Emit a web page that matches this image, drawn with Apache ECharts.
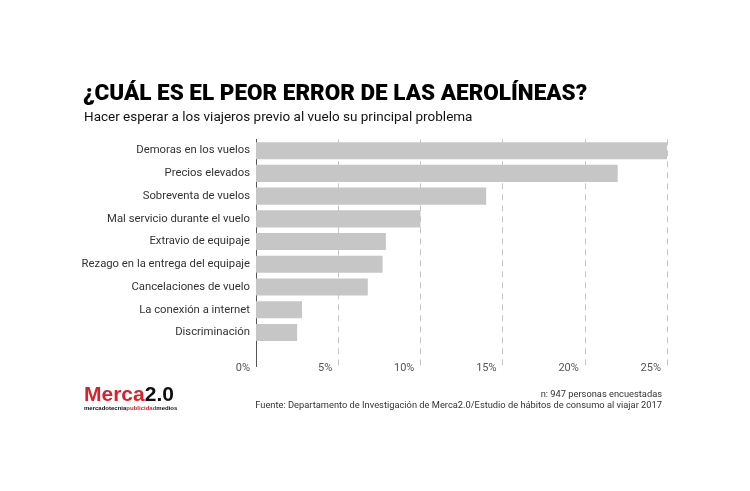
<!DOCTYPE html>
<html>
<head>
<meta charset="utf-8">
<script src="https://cdn.jsdelivr.net/npm/echarts@6/dist/echarts.min.js"></script>
<style>
html,body{margin:0;padding:0;background:#fff;}
#chart{width:750px;height:491px;}
</style>
</head>
<body>
<div id="chart"></div>
<script>
var categories = ['Demoras en los vuelos','Precios elevados','Sobreventa de vuelos','Mal servicio durante el vuelo','Extravio de equipaje','Rezago en la entrega del equipaje','Cancelaciones de vuelo','La conexión a internet','Discriminación',''];
var values = [25.0, 22.0, 14.0, 10.0, 7.9, 7.7, 6.8, 2.8, 2.5, null];
var xTicks = [0, 5, 10, 15, 20, 25];
var titleText = '¿CUÁL ES EL PEOR ERROR DE LAS AEROLÍNEAS?';
var subtitleText = 'Hacer esperar a los viajeros previo al vuelo su principal problema';
var noteText = 'n: 947 personas encuestadas';
var sourceText = 'Fuente: Departamento de Investigación de Merca2.0/Estudio de hábitos de consumo al viajar 2017';

var chart = echarts.init(document.getElementById('chart'), null, {renderer:'canvas'});
var FONT = 'Roboto, "DejaVu Sans", sans-serif';
chart.setOption({
  backgroundColor: '#fff',
  animation: false,
  textStyle: {fontFamily: FONT},
  title: [
    {text: titleText, left: 83, top: 83, padding: 0, textStyle: {fontFamily: FONT, fontSize: 22.5, fontWeight: 900, color: '#000'}},
    {text: subtitleText, left: 84, top: 111, padding: 0, textStyle: {fontFamily: FONT, fontSize: 13.5, fontWeight: 'normal', color: '#111'}}
  ],
  grid: {left: 256, right: 83, top: 139.3, bottom: 491 - 366.6, containLabel: false},
  xAxis: {
    type: 'value', min: xTicks[0], max: xTicks[xTicks.length - 1], interval: 5,
    axisLine: {show: false}, axisTick: {show: false},
    splitLine: {show: true, lineStyle: {type: [6, 5], color: '#c4c4c4', width: 1}},
    axisLabel: {formatter: '{value}%', align: 'right', padding: [0, 6, 0, 0], margin: -4, color: '#555', fontSize: 11, fontFamily: FONT}
  },
  yAxis: {
    type: 'category', data: categories, inverse: true,
    axisLine: {show: true, lineStyle: {color: '#555', width: 1}},
    axisTick: {show: false},
    axisLabel: {color: '#333', fontSize: 11.3, margin: 6, fontFamily: FONT},
    splitLine: {show: false}
  },
  series: [{
    type: 'bar', data: values, barCategoryGap: '25%',
    itemStyle: {color: '#c6c6c6'}, silent: true
  }],
  graphic: [
    {type: 'text', left: 84, top: 385, style: {
      text: '{r|Merca}{b|2.0}', fontFamily: 'Arial, "Liberation Sans", sans-serif',
      rich: {r: {fill: '#d7212b', fontSize: 21, fontWeight: 'bold', fontFamily: 'Arial, "Liberation Sans", sans-serif'},
             b: {fill: '#111', fontSize: 21, fontWeight: 'bold', fontFamily: 'Arial, "Liberation Sans", sans-serif'}}
    }},
    {type: 'text', left: 84, top: 405, style: {
      text: '{k|mercadotecnia}{r|publicidad}{k|medios}',
      rich: {k: {fill: '#111', fontSize: 6, fontWeight: 'bold', fontFamily: 'Arial, sans-serif'},
             r: {fill: '#d7212b', fontSize: 6, fontWeight: 'bold', fontFamily: 'Arial, sans-serif'}}
    }},
    {type: 'text', right: 88, top: 390, style: {text: noteText, fill: '#333', fontSize: 9.3, fontFamily: FONT, align: 'right'}},
    {type: 'text', right: 88, top: 401, style: {text: sourceText, fill: '#333', fontSize: 9.3, fontFamily: FONT, align: 'right'}}
  ]
});
</script>
</body>
</html>
